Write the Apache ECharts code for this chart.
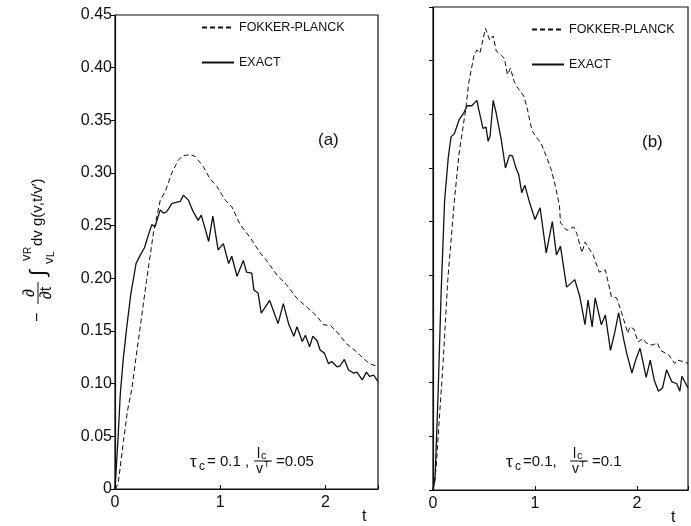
<!DOCTYPE html>
<html>
<head>
<meta charset="UTF-8">
<title>Fokker-Planck vs exact</title>
<script src="https://cdn.jsdelivr.net/npm/echarts@6/dist/echarts.min.js"></script>
<style>
  html, body { margin: 0; padding: 0; background: #fff; }
  #main { width: 691px; height: 526px; }
</style>
</head>
<body>
<div id="main"></div>
<script>
// panel (a): tau_c = 0.1, l_c/v^T = 0.05
const aExactT = [0, 0.03, 0.05, 0.08, 0.11, 0.15, 0.2, 0.24, 0.28, 0.32, 0.35, 0.38, 0.43, 0.46, 0.49, 0.54, 0.58, 0.62, 0.65, 0.7, 0.74, 0.79, 0.82, 0.86, 0.89, 0.93, 0.98, 1.03, 1.08, 1.11, 1.16, 1.22, 1.25, 1.3, 1.32, 1.36, 1.39, 1.43, 1.47, 1.51, 1.55, 1.6, 1.65, 1.7, 1.73, 1.78, 1.81, 1.85, 1.88, 1.92, 1.95, 1.99, 2.03, 2.06, 2.11, 2.14, 2.18, 2.22, 2.27, 2.3, 2.35, 2.39, 2.42, 2.46, 2.5];
const aExactV = [0, 0.05, 0.09, 0.125, 0.152, 0.185, 0.214, 0.222, 0.229, 0.242, 0.251, 0.249, 0.265, 0.262, 0.263, 0.271, 0.272, 0.273, 0.279, 0.274, 0.264, 0.255, 0.26, 0.246, 0.235, 0.259, 0.227, 0.233, 0.214, 0.221, 0.202, 0.217, 0.206, 0.205, 0.189, 0.186, 0.167, 0.173, 0.179, 0.168, 0.157, 0.176, 0.157, 0.145, 0.154, 0.14, 0.146, 0.135, 0.145, 0.141, 0.132, 0.129, 0.119, 0.121, 0.116, 0.117, 0.123, 0.113, 0.11, 0.111, 0.1035, 0.111, 0.107, 0.108, 0.102];
const aFpT = [0, 0.03, 0.08, 0.12, 0.16, 0.2, 0.24, 0.3, 0.365, 0.43, 0.48, 0.54, 0.6, 0.64, 0.68, 0.72, 0.76, 0.8, 0.84, 0.9, 0.97, 1.05, 1.11, 1.19, 1.29, 1.38, 1.44, 1.54, 1.63, 1.73, 1.82, 1.92, 1.98, 2.05, 2.11, 2.2, 2.3, 2.36, 2.42, 2.5];
const aFpV = [0, 0.005, 0.045, 0.075, 0.095, 0.125, 0.154, 0.198, 0.243, 0.274, 0.283, 0.3, 0.312, 0.316, 0.317, 0.317, 0.316, 0.311, 0.306, 0.295, 0.287, 0.274, 0.268, 0.251, 0.238, 0.224, 0.217, 0.203, 0.194, 0.181, 0.173, 0.164, 0.156, 0.155, 0.149, 0.138, 0.13, 0.124, 0.119, 0.116];

// panel (b): tau_c = 0.1, l_c/v^T = 0.1
const bExactT = [0, 0.02, 0.05, 0.08, 0.114, 0.15, 0.177, 0.21, 0.256, 0.3, 0.335, 0.38, 0.43, 0.45, 0.49, 0.52, 0.54, 0.56, 0.59, 0.62, 0.67, 0.71, 0.75, 0.78, 0.81, 0.84, 0.87, 0.9, 0.94, 1.0, 1.05, 1.11, 1.17, 1.21, 1.25, 1.31, 1.39, 1.44, 1.49, 1.52, 1.56, 1.59, 1.65, 1.69, 1.74, 1.78, 1.82, 1.87, 1.9, 1.95, 1.99, 2.03, 2.09, 2.13, 2.17, 2.21, 2.25, 2.29, 2.34, 2.39, 2.42, 2.44, 2.5];
const bExactV = [0, 0.01, 0.09, 0.185, 0.27, 0.31, 0.329, 0.332, 0.345, 0.351, 0.358, 0.358, 0.363, 0.354, 0.337, 0.338, 0.325, 0.33, 0.363, 0.351, 0.326, 0.3, 0.312, 0.311, 0.301, 0.294, 0.277, 0.284, 0.27, 0.252, 0.263, 0.221, 0.25, 0.219, 0.227, 0.189, 0.196, 0.18, 0.154, 0.177, 0.152, 0.179, 0.154, 0.163, 0.13, 0.146, 0.165, 0.14, 0.127, 0.109, 0.122, 0.132, 0.105, 0.121, 0.102, 0.092, 0.095, 0.112, 0.101, 0.099, 0.092, 0.106, 0.095];
const bFpT = [0, 0.03, 0.066, 0.1, 0.145, 0.21, 0.256, 0.32, 0.35, 0.4, 0.43, 0.46, 0.515, 0.556, 0.59, 0.62, 0.67, 0.7, 0.73, 0.76, 0.79, 0.82, 0.86, 0.89, 0.92, 0.97, 1.01, 1.06, 1.11, 1.16, 1.2, 1.24, 1.25, 1.31, 1.38, 1.41, 1.46, 1.49, 1.57, 1.63, 1.69, 1.75, 1.8, 1.85, 1.91, 1.93, 1.97, 2.01, 2.06, 2.09, 2.15, 2.2, 2.23, 2.31, 2.37, 2.4, 2.44, 2.5];
const bFpV = [0, 0.02, 0.072, 0.12, 0.196, 0.27, 0.314, 0.354, 0.379, 0.404, 0.41, 0.407, 0.43, 0.419, 0.423, 0.409, 0.405, 0.402, 0.387, 0.393, 0.382, 0.376, 0.371, 0.367, 0.357, 0.335, 0.329, 0.323, 0.311, 0.298, 0.283, 0.265, 0.249, 0.242, 0.245, 0.239, 0.221, 0.231, 0.219, 0.203, 0.205, 0.18, 0.179, 0.165, 0.146, 0.152, 0.15, 0.138, 0.141, 0.137, 0.135, 0.137, 0.13, 0.126, 0.118, 0.121, 0.12, 0.118];

const seriesNames = ['FOKKER-PLANCK', 'EXACT'];
const panelTags = ['(a)', '(b)'];
const ratioLabels = ['0.05', '0.1'];

const FONT = 'Liberation Sans, Arial, sans-serif';
const INK = '#111';

const zip = (t, v) => t.map((x, i) => [x, v[i]]);

function line(name, axis, t, v) {
  const dashed = name === seriesNames[0];
  return {
    name: name, type: 'line', xAxisIndex: axis, yAxisIndex: axis,
    data: zip(t, v), symbol: 'none', silent: true,
    lineStyle: { color: INK, width: dashed ? 1 : 1.3, type: dashed ? [5, 3] : 'solid' },
    itemStyle: { color: INK }
  };
}

function xAxis(idx, gap) {
  return {
    type: 'value', gridIndex: idx, min: 0, max: 2.5, interval: 1,
    name: 't', nameLocation: 'end', nameGap: gap,
    nameTextStyle: { fontFamily: FONT, fontSize: 16, color: INK, verticalAlign: 'top', padding: [20, 0, 0, 0] },
    axisLine: { lineStyle: { color: INK, width: 1.2 } },
    axisTick: { inside: true, length: 4, lineStyle: { color: INK } },
    axisLabel: { fontFamily: FONT, fontSize: 16, color: INK, margin: 6,
      formatter: v => Number.isInteger(v) ? String(v) : '' },
    splitLine: { show: false }
  };
}

function yAxis(idx, labels) {
  return {
    type: 'value', gridIndex: idx, min: 0, max: 0.45, interval: 0.05,
    axisLine: { show: true, lineStyle: { color: INK, width: 1.2 } },
    axisTick: { show: true, length: 4, lineStyle: { color: INK } },
    axisLabel: { show: labels, fontFamily: FONT, fontSize: 16, color: INK, margin: 3,
      formatter: v => v === 0 ? '0' : v.toFixed(2) },
    splitLine: { show: false }
  };
}

function legend(left, top) {
  return {
    left: left, top: top, orient: 'vertical', itemGap: 22,
    itemWidth: 32, itemHeight: 14, data: seriesNames, selectedMode: false,
    itemStyle: { opacity: 0 },
    textStyle: { fontFamily: FONT, fontSize: 12.5, color: INK }
  };
}

function txt(x, y, s, size, extra) {
  return { type: 'text', x: x, y: y, silent: true,
    style: Object.assign({ text: s, font: size + 'px ' + FONT, fill: INK, verticalAlign: 'middle' }, extra || {}) };
}

// "tau_c = 0.1 , l_c / v^T = r"
function paramLabel(x, y, ratio, comma) {
  return { type: 'group', x: x, y: y, children: [
    txt(0, 0, 'τ', 17),
    txt(9, 5, 'c', 12),
    txt(17, 0, comma, 15),
    txt(67, -8, 'l', 14),
    txt(71, -6, 'c', 11),
    { type: 'line', shape: { x1: 64, y1: -1, x2: 82, y2: -1 }, style: { stroke: INK, lineWidth: 1 } },
    txt(66, 7, 'v', 14),
    txt(74, 3, 'T', 9),
    txt(86, 0, '=' + ratio, 15)
  ] };
}

const chart = echarts.init(document.getElementById('main'));
chart.setOption({
  animation: false,
  backgroundColor: '#fff',
  grid: [
    { left: 115, top: 15, width: 263, height: 474, show: true, borderColor: INK, borderWidth: 1.2 },
    { left: 433, top: 7, width: 264, height: 483, show: true, borderColor: INK, borderWidth: 1.2 }
  ],
  xAxis: [xAxis(0, -16), xAxis(1, -17)],
  yAxis: [yAxis(0, true), yAxis(1, false)],
  legend: [legend(196, 16), legend(526, 18)],
  series: [
    line(seriesNames[0], 0, aFpT, aFpV),
    line(seriesNames[1], 0, aExactT, aExactV),
    line(seriesNames[0], 1, bFpT, bFpV),
    line(seriesNames[1], 1, bExactT, bExactV)
  ],
  graphic: [
    // y-axis title, rotated
    { type: 'group', x: 38, y: 322, rotation: Math.PI / 2, silent: true, children: [
      txt(0, 0, '−', 16),
      txt(29, -8, '∂', 16, { align: 'center' }),
      { type: 'line', shape: { x1: 18, y1: 0, x2: 40, y2: 0 }, style: { stroke: INK, lineWidth: 1 } },
      txt(29, 9, '∂t', 16, { align: 'center' }),
      txt(46, 1, '∫', 22),
      txt(61, -12, 'v', 13),
      txt(68, -10, 'R', 10),
      txt(58, 11, 'v', 13),
      txt(65, 13, 'L', 10),
      txt(76, 0, 'dv g(v,t/v′)', 15)
    ] },
    txt(318, 140, panelTags[0], 17),
    txt(642, 142, panelTags[1], 17),
    paramLabel(190, 462, ratioLabels[0], '= 0.1 ,'),
    paramLabel(506, 462, ratioLabels[1], '=0.1,')
  ]
});
</script>
</body>
</html>
